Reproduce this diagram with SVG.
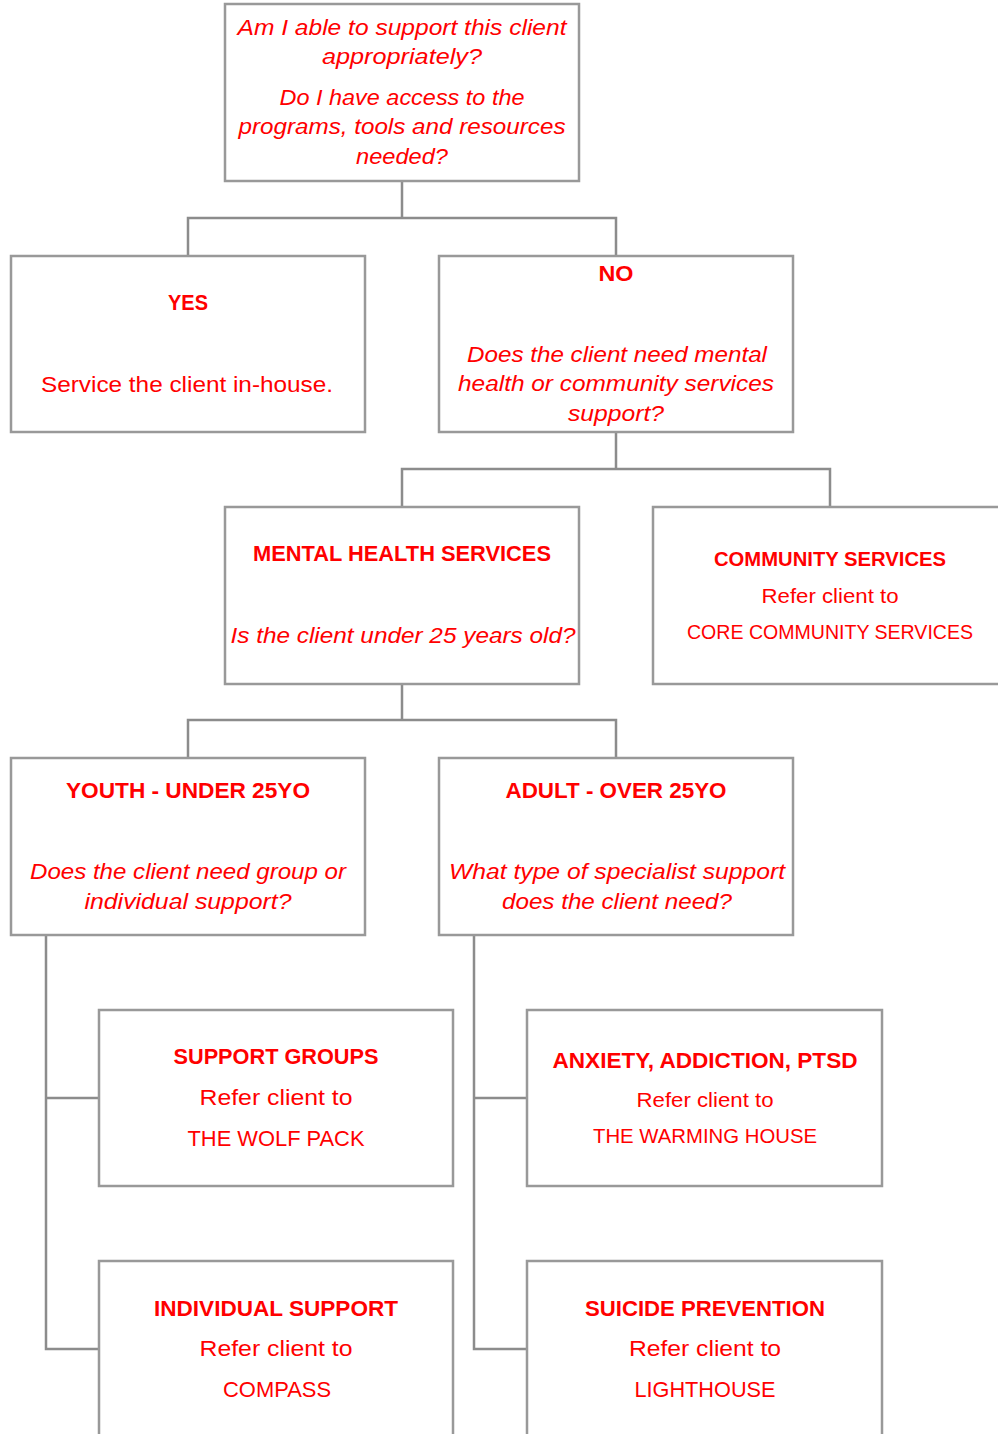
<svg xmlns="http://www.w3.org/2000/svg" width="998" height="1434" viewBox="0 0 998 1434">
<style>
.box{fill:#fff;stroke:#999;stroke-width:2.5}
.c{fill:none;stroke:#8c8c8c;stroke-width:2.5}
text{font-family:"Liberation Sans",Arial,sans-serif;fill:#ff0000;text-anchor:middle;font-size:22px}
.b{font-weight:bold}
.i{font-style:italic}
.s{font-size:20px}
</style>
<rect width="998" height="1434" fill="#fff"/>
<g id="connectors">
<path class="c" d="M402 181V218M188 256V218H616V256"/>
<path class="c" d="M616 432V469M402 507V469H830V507"/>
<path class="c" d="M402 684V720M188 758V720H616V758"/>
<path class="c" d="M46 935V1349H99M46 1098H99"/>
<path class="c" d="M474 935V1349H527M474 1098H527"/>
</g>
<g id="n-root">
<rect class="box" x="225" y="4" width="354" height="177"/>
<text class="i" x="402" y="35" textLength="329" lengthAdjust="spacingAndGlyphs">Am I able to support this client</text>
<text class="i" x="402" y="64" textLength="160" lengthAdjust="spacingAndGlyphs">appropriately?</text>
<text class="i" x="402" y="105" textLength="245" lengthAdjust="spacingAndGlyphs">Do I have access to the</text>
<text class="i" x="402" y="134" textLength="327" lengthAdjust="spacingAndGlyphs">programs, tools and resources</text>
<text class="i" x="402" y="164" textLength="92" lengthAdjust="spacingAndGlyphs">needed?</text>
</g>
<g id="n-yes">
<rect class="box" x="11" y="256" width="354" height="176"/>
<text class="b" x="188" y="310" textLength="40" lengthAdjust="spacingAndGlyphs">YES</text>
<text x="187" y="392" textLength="292" lengthAdjust="spacingAndGlyphs">Service the client in-house.</text>
</g>
<g id="n-no">
<rect class="box" x="439" y="256" width="354" height="176"/>
<text class="b" x="616" y="281" textLength="35" lengthAdjust="spacingAndGlyphs">NO</text>
<text class="i" x="617" y="362" textLength="300" lengthAdjust="spacingAndGlyphs">Does the client need mental</text>
<text class="i" x="616" y="391" textLength="316" lengthAdjust="spacingAndGlyphs">health or community services</text>
<text class="i" x="616" y="421" textLength="96" lengthAdjust="spacingAndGlyphs">support?</text>
</g>
<g id="n-mh">
<rect class="box" x="225" y="507" width="354" height="177"/>
<text class="b" x="402" y="561" textLength="298" lengthAdjust="spacingAndGlyphs">MENTAL HEALTH SERVICES</text>
<text class="i" x="403" y="643" textLength="345" lengthAdjust="spacingAndGlyphs">Is the client under 25 years old?</text>
</g>
<g id="n-community">
<rect class="box" x="653" y="507" width="360" height="177"/>
<text class="b s" x="830" y="566" textLength="232" lengthAdjust="spacingAndGlyphs">COMMUNITY SERVICES</text>
<text class="s" x="830" y="603" textLength="137" lengthAdjust="spacingAndGlyphs">Refer client to</text>
<text class="s" x="830" y="639" textLength="286" lengthAdjust="spacingAndGlyphs">CORE COMMUNITY SERVICES</text>
</g>
<g id="n-youth">
<rect class="box" x="11" y="758" width="354" height="177"/>
<text class="b" x="188" y="798" textLength="244" lengthAdjust="spacingAndGlyphs">YOUTH - UNDER 25YO</text>
<text class="i" x="188" y="879" textLength="316" lengthAdjust="spacingAndGlyphs">Does the client need group or</text>
<text class="i" x="188" y="909" textLength="207" lengthAdjust="spacingAndGlyphs">individual support?</text>
</g>
<g id="n-adult">
<rect class="box" x="439" y="758" width="354" height="177"/>
<text class="b" x="616" y="798" textLength="221" lengthAdjust="spacingAndGlyphs">ADULT - OVER 25YO</text>
<text class="i" x="617" y="879" textLength="336" lengthAdjust="spacingAndGlyphs">What type of specialist support</text>
<text class="i" x="617" y="909" textLength="230" lengthAdjust="spacingAndGlyphs">does the client need?</text>
</g>
<g id="n-support-groups">
<rect class="box" x="99" y="1010" width="354" height="176"/>
<text class="b" x="276" y="1064" textLength="205" lengthAdjust="spacingAndGlyphs">SUPPORT GROUPS</text>
<text x="276" y="1105" textLength="153" lengthAdjust="spacingAndGlyphs">Refer client to</text>
<text x="276" y="1146" textLength="177" lengthAdjust="spacingAndGlyphs">THE WOLF PACK</text>
</g>
<g id="n-anxiety">
<rect class="box" x="527" y="1010" width="355" height="176"/>
<text class="b" x="705" y="1068" textLength="305" lengthAdjust="spacingAndGlyphs">ANXIETY, ADDICTION, PTSD</text>
<text class="s" x="705" y="1107" textLength="137" lengthAdjust="spacingAndGlyphs">Refer client to</text>
<text class="s" x="705" y="1143" textLength="224" lengthAdjust="spacingAndGlyphs">THE WARMING HOUSE</text>
</g>
<g id="n-individual">
<rect class="box" x="99" y="1261" width="354" height="190"/>
<text class="b" x="276" y="1316" textLength="244" lengthAdjust="spacingAndGlyphs">INDIVIDUAL SUPPORT</text>
<text x="276" y="1356" textLength="153" lengthAdjust="spacingAndGlyphs">Refer client to</text>
<text x="277" y="1397" textLength="108" lengthAdjust="spacingAndGlyphs">COMPASS</text>
</g>
<g id="n-suicide">
<rect class="box" x="527" y="1261" width="355" height="190"/>
<text class="b" x="705" y="1316" textLength="240" lengthAdjust="spacingAndGlyphs">SUICIDE PREVENTION</text>
<text x="705" y="1356" textLength="152" lengthAdjust="spacingAndGlyphs">Refer client to</text>
<text x="705" y="1397" textLength="141" lengthAdjust="spacingAndGlyphs">LIGHTHOUSE</text>
</g>
</svg>
